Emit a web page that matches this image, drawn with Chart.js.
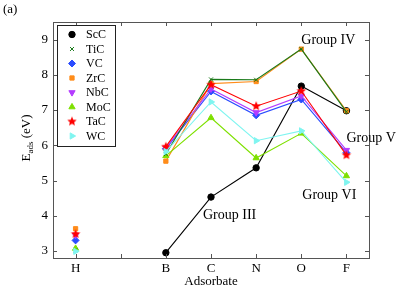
<!DOCTYPE html>
<html>
<head>
<meta charset="utf-8">
<script src="https://cdn.jsdelivr.net/npm/chart.js@4"></script>
<style>
  html, body { margin: 0; padding: 0; background: #fff; }
  #wrap { width: 407px; height: 291px; }
</style>
</head>
<body>
<div id="wrap"><canvas id="chart" width="407" height="291"></canvas></div>
<script>
// adsorbates on the x axis (the empty slot keeps H apart from the rest)
const adsorbates = ['H', '', 'B', 'C', 'N', 'O', 'F'];
const yTicks = [3, 4, 5, 6, 7, 8, 9];

// adsorption energies (eV)
const scC = [null, null, 2.95, 4.53, 5.36, 7.68, 6.98];
const tiC = [3.02, null, 5.75, 7.87, 7.86, 8.73, 6.95];
const vC  = [3.30, null, 5.90, 7.53, 6.85, 7.30, 5.79];
const zrC = [3.63, null, 5.55, 7.75, 7.81, 8.73, 6.98];
const nbC = [3.45, null, 5.92, 7.60, 6.93, 7.40, 5.86];
const moC = [3.07, null, 5.70, 6.78, 5.64, 6.34, 5.13];
const taC = [3.48, null, 5.96, 7.72, 7.11, 7.54, 5.72];
const wC  = [2.99, null, 5.82, 7.23, 6.13, 6.41, 4.95];

// text labels: category index, value, small pixel nudge
const groupLabels = [
  { text: 'Group IV', x: 5, y: 8.97, dx: 0 },
  { text: 'Group V', x: 6, y: 6.2, dx: 0 },
  { text: 'Group VI', x: 5, y: 4.57, dx: 1 },
  { text: 'Group III', x: 3, y: 4.0, dx: -8 }
];

const serif = '"Liberation Serif", "DejaVu Serif", serif';

// filled five point star for TaC
function makeStar(color, r) {
  const c = document.createElement('canvas');
  c.width = c.height = r * 2 + 2;
  const g = c.getContext('2d');
  g.fillStyle = color;
  g.beginPath();
  for (let i = 0; i < 10; i++) {
    const rad = i % 2 === 0 ? r : r * 0.45;
    const a = -Math.PI / 2 + i * Math.PI / 5;
    const px = r + 1 + rad * Math.cos(a);
    const py = r + 1 + rad * Math.sin(a);
    if (i === 0) g.moveTo(px, py); else g.lineTo(px, py);
  }
  g.closePath();
  g.fill();
  return c;
}
const starImg = makeStar('#ff0000', 5);

function series(label, data, color, style, radius, rotation) {
  return {
    label: label,
    data: data,
    borderColor: color,
    backgroundColor: color,
    pointBackgroundColor: color,
    pointBorderColor: color,
    pointStyle: style,
    pointRadius: radius,
    pointRotation: rotation || 0,
    pointBorderWidth: 1,
    borderWidth: 1.1,
    tension: 0,
    spanGaps: false
  };
}

const datasets = [
  series('ScC', scC, '#000000', 'circle', 3.2),
  series('TiC', tiC, '#1a7a1a', 'crossRot', 2.8),
  series('VC', vC, '#2b4cff', 'rectRot', 3.5),
  series('ZrC', zrC, '#ff8c1a', 'rect', 3),
  series('NbC', nbC, '#b43cff', 'triangle', 3.6, 180),
  series('MoC', moC, '#7ee000', 'triangle', 3.6),
  series('TaC', taC, '#ff0000', starImg, 5),
  series('WC', wC, '#7ff5f0', 'triangle', 3.6, 90)
];
// later series are painted over earlier ones; TiC sits above ZrC
datasets.forEach((d, i) => { d.order = datasets.length - i; });
datasets[1].order = 2.5;

// box, inward ticks, legend, annotations and y title
const decorations = {
  id: 'decorations',
  afterDraw(chart) {
    const ctx = chart.ctx;
    const a = chart.chartArea;
    const xs = chart.scales.x, ys = chart.scales.y;
    ctx.save();
    ctx.strokeStyle = '#555';
    ctx.lineWidth = 1;
    ctx.strokeRect(Math.round(a.left) + 0.5, Math.round(a.top) + 0.5,
      Math.round(a.right - a.left), Math.round(a.bottom - a.top));
    ctx.beginPath();
    for (let i = 0; i < adsorbates.length; i++) {
      const px = Math.round(xs.getPixelForValue(i)) + 0.5;
      ctx.moveTo(px, a.bottom); ctx.lineTo(px, a.bottom - 4);
      ctx.moveTo(px, a.top); ctx.lineTo(px, a.top + 4);
    }
    yTicks.forEach(v => {
      const py = Math.round(ys.getPixelForValue(v)) + 0.5;
      ctx.moveTo(a.left, py); ctx.lineTo(a.left + 4, py);
      ctx.moveTo(a.right, py); ctx.lineTo(a.right - 4, py);
    });
    ctx.stroke();

    // legend box in the upper left corner
    const lx = a.left + 4, ly = a.top + 3, lw = 58, lh = 121;
    ctx.fillStyle = '#fff';
    ctx.fillRect(lx, ly, lw, lh);
    ctx.strokeStyle = '#222';
    ctx.strokeRect(lx + 0.5, ly + 0.5, lw, lh);
    ctx.font = '12px ' + serif;
    ctx.textBaseline = 'middle';
    ctx.textAlign = 'left';
    datasets.forEach((d, i) => {
      const cy = ly + 9.5 + i * 14.5;
      const cx = lx + 15;
      ctx.fillStyle = d.pointBackgroundColor;
      ctx.strokeStyle = d.pointBorderColor;
      ctx.lineWidth = 1;
      if (Chart.helpers && Chart.helpers.drawPoint) {
        Chart.helpers.drawPoint(ctx, {
          pointStyle: d.pointStyle,
          radius: d.pointRadius,
          rotation: d.pointRotation,
          borderWidth: 1
        }, cx, cy);
      }
      ctx.fillStyle = '#000';
      ctx.fillText(d.label, lx + 29, cy + 0.5);
    });

    // group annotations
    ctx.font = '14px ' + serif;
    ctx.fillStyle = '#000';
    ctx.textAlign = 'left';
    groupLabels.forEach(g => {
      ctx.fillText(g.text, xs.getPixelForValue(g.x) + g.dx, ys.getPixelForValue(g.y));
    });

    // y axis title with subscript
    ctx.translate(27, (a.top + a.bottom) / 2 - 2);
    ctx.rotate(-Math.PI / 2);
    ctx.textAlign = 'left';
    ctx.font = '13px ' + serif;
    const w1 = ctx.measureText('E').width;
    ctx.font = '9px ' + serif;
    const w2 = ctx.measureText('ads').width;
    ctx.font = '13px ' + serif;
    const w3 = ctx.measureText(' (eV)').width;
    const x0 = -(w1 + w2 + w3) / 2;
    ctx.fillText('E', x0, 0);
    ctx.font = '9px ' + serif;
    ctx.fillText('ads', x0 + w1, 4);
    ctx.font = '13px ' + serif;
    ctx.fillText(' (eV)', x0 + w1 + w2, 0);
    ctx.restore();

    // panel tag
    ctx.save();
    ctx.font = '13px ' + serif;
    ctx.fillStyle = '#000';
    ctx.textBaseline = 'middle';
    ctx.fillText('(a)', 3, 10);
    ctx.restore();
  }
};

new Chart(document.getElementById('chart'), {
  type: 'line',
  data: { labels: adsorbates, datasets: datasets },
  options: {
    responsive: false,
    animation: false,
    layout: { padding: { top: 22, right: 38, left: 0, bottom: 0 } },
    plugins: {
      legend: { display: false },
      tooltip: { enabled: false }
    },
    scales: {
      x: {
        type: 'category',
        offset: true,
        grid: { display: false, drawTicks: false },
        border: { display: false },
        ticks: {
          color: '#000',
          font: { family: serif, size: 13 },
          padding: 3,
          maxRotation: 0,
          autoSkip: false
        },
        title: {
          display: true,
          text: 'Adsorbate',
          color: '#000',
          font: { family: serif, size: 13 },
          padding: { top: 0, bottom: 2 }
        },
        afterFit(s) { s.height = 33; }
      },
      y: {
        min: 2.8,
        max: 9.5,
        afterBuildTicks(s) { s.ticks = yTicks.map(v => ({ value: v })); },
        grid: { display: false, drawTicks: false },
        border: { display: false },
        ticks: {
          color: '#000',
          font: { family: serif, size: 13 },
          padding: 5
        },
        afterFit(s) { s.width = 53; }
      }
    }
  },
  plugins: [decorations]
});
</script>
</body>
</html>
